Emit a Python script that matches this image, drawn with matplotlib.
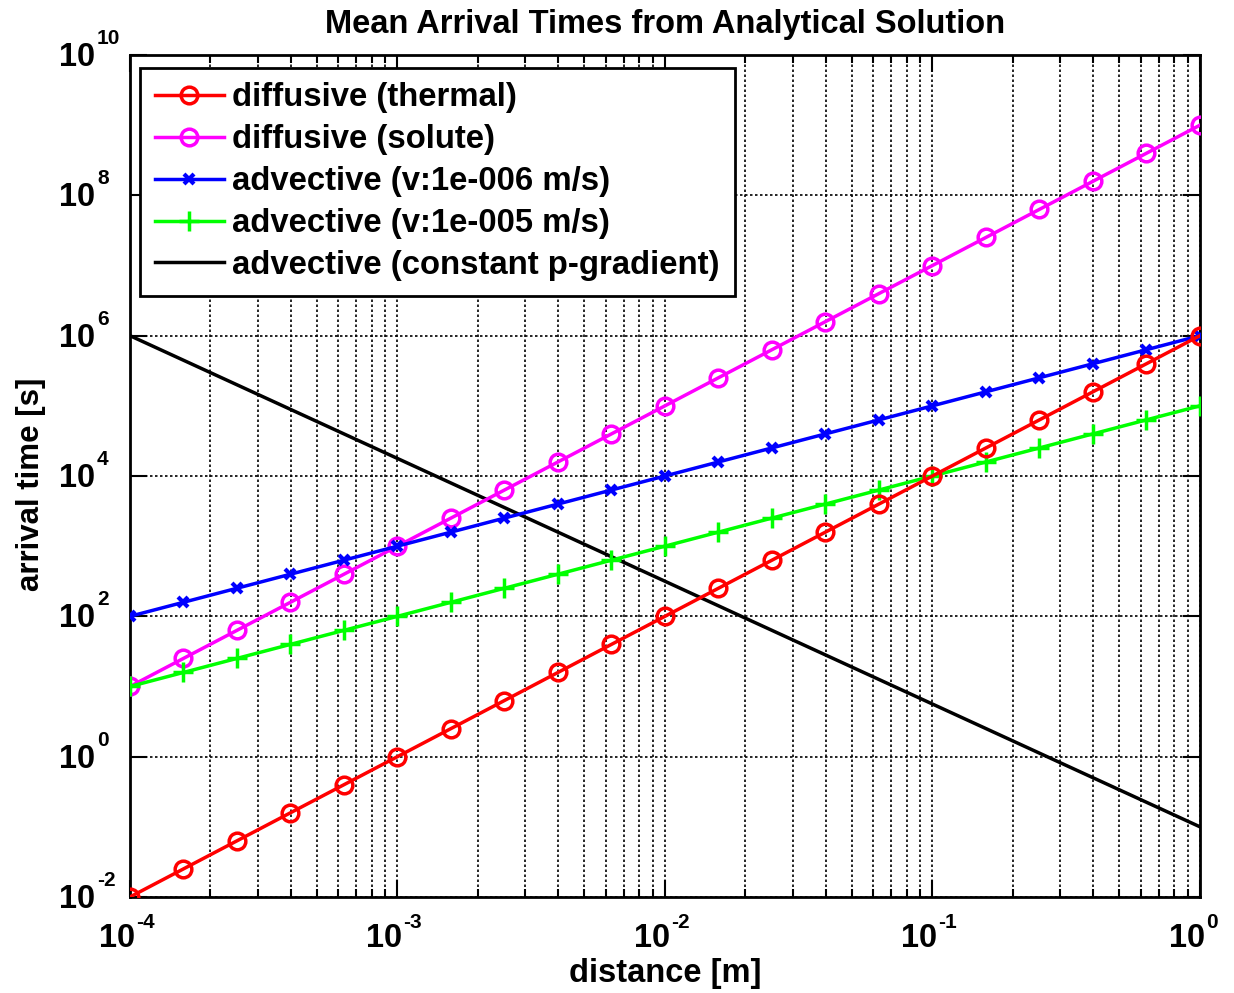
import numpy as np
import matplotlib
matplotlib.use("Agg")
from matplotlib import pyplot as plt
from matplotlib.ticker import LogLocator, NullFormatter, NullLocator

# distance [m]
distance = [1.000e-4, 1.585e-4, 2.512e-4, 3.981e-4, 6.310e-4,
            1.000e-3, 1.585e-3, 2.512e-3, 3.981e-3, 6.310e-3,
            1.000e-2, 1.585e-2, 2.512e-2, 3.981e-2, 6.310e-2,
            1.000e-1, 1.585e-1, 2.512e-1, 3.981e-1, 6.310e-1, 1.0]

# arrival times [s]
t_thermal = [1.000e-2, 2.512e-2, 6.310e-2, 1.585e-1, 3.981e-1,
             1.0, 2.512, 6.310, 15.85, 39.81,
             100.0, 251.2, 631.0, 1585.0, 3981.0,
             1.0e4, 2.512e4, 6.310e4, 1.585e5, 3.981e5, 1.0e6]
t_solute = [10.0, 25.12, 63.10, 158.5, 398.1,
            1.0e3, 2.512e3, 6.310e3, 1.585e4, 3.981e4,
            1.0e5, 2.512e5, 6.310e5, 1.585e6, 3.981e6,
            1.0e7, 2.512e7, 6.310e7, 1.585e8, 3.981e8, 1.0e9]
t_adv_1e6 = [100.0, 158.5, 251.2, 398.1, 631.0,
             1.0e3, 1585.0, 2512.0, 3981.0, 6310.0,
             1.0e4, 1.585e4, 2.512e4, 3.981e4, 6.310e4,
             1.0e5, 1.585e5, 2.512e5, 3.981e5, 6.310e5, 1.0e6]
t_adv_1e5 = [10.0, 15.85, 25.12, 39.81, 63.10,
             100.0, 158.5, 251.2, 398.1, 631.0,
             1.0e3, 1585.0, 2512.0, 3981.0, 6310.0,
             1.0e4, 1.585e4, 2.512e4, 3.981e4, 6.310e4, 1.0e5]
dist_pgrad = [1.0e-4, 1.0]
t_pgrad = [1.0e6, 0.1]

# tick decades
x_exps = [-4, -3, -2, -1, 0]
y_exps = [-2, 0, 2, 4, 6, 8, 10]

plt.rcParams['font.family'] = ['Liberation Sans', 'DejaVu Sans']
plt.rcParams['font.weight'] = 'bold'

fig = plt.figure(figsize=(12.34, 9.93), dpi=100)
ax = fig.add_axes([0.1053, 0.0967, 0.8671, 0.8479])

lw = 2.5
ax.loglog(distance, t_thermal, color='#ff0000', lw=lw, marker='o', ms=12,
          mfc='none', mew=2.5, label='diffusive (thermal)', zorder=5)
ax.loglog(distance, t_solute, color='#ff00ff', lw=lw, marker='o', ms=12,
          mfc='none', mew=2.5, label='diffusive (solute)', zorder=4)
ax.loglog(distance, t_adv_1e6, color='#0000ff', lw=lw, marker='x', ms=7,
          mew=3, label='advective (v:1e-006 m/s)', zorder=4)
ax.loglog(distance, t_adv_1e5, color='#00ff00', lw=lw, marker='+', ms=15,
          mew=2.5, label='advective (v:1e-005 m/s)', zorder=4)
ax.loglog(dist_pgrad, t_pgrad, color='black', lw=lw,
          label='advective (constant p-gradient)', zorder=3)

ax.set_xlim(1e-4, 1)
ax.set_ylim(1e-2, 1e10)

ax.set_xticks([10.0 ** e for e in x_exps])
ax.xaxis.set_minor_locator(LogLocator(base=10, subs=np.arange(2, 10), numticks=10))
ax.xaxis.set_minor_formatter(NullFormatter())
ax.xaxis.set_major_formatter(NullFormatter())
ax.set_yticks([10.0 ** e for e in y_exps])
ax.yaxis.set_minor_locator(NullLocator())
ax.yaxis.set_major_formatter(NullFormatter())

ax.tick_params(which='both', direction='in', top=True, right=True, width=1.5)
ax.tick_params(which='major', length=12)
ax.tick_params(which='minor', length=6)

# matlab style tick labels: big mantissa, small raised exponent
px = 0.72
for e in x_exps:
    v = 10.0 ** e
    ax.annotate('10', xy=(v, 0), xycoords=ax.get_xaxis_transform(),
                xytext=(5 * px, -50 * px), textcoords='offset points',
                ha='right', va='baseline', fontsize=23.5, fontweight='bold')
    ax.annotate('%d' % e, xy=(v, 0), xycoords=ax.get_xaxis_transform(),
                xytext=(6 * px, -31 * px), textcoords='offset points',
                ha='left', va='baseline', fontsize=15, fontweight='bold')
for e in y_exps:
    v = 10.0 ** e
    ax.annotate('10', xy=(0, v), xycoords=ax.get_yaxis_transform(),
                xytext=(-35 * px, -11 * px), textcoords='offset points',
                ha='right', va='baseline', fontsize=23.5, fontweight='bold')
    ax.annotate('%d' % e, xy=(0, v), xycoords=ax.get_yaxis_transform(),
                xytext=(-33 * px, 11 * px), textcoords='offset points',
                ha='left', va='baseline', fontsize=15, fontweight='bold')

ax.grid(True, which='major', color='black', ls=(0, (1.5, 1.5)), lw=1.2)
ax.grid(True, which='minor', axis='x', color='black', ls=(0, (1.5, 1.5)), lw=1.2)

for sp in ax.spines.values():
    sp.set_linewidth(2)

ax.set_title('Mean Arrival Times from Analytical Solution', fontsize=23.5,
             fontweight='bold', pad=16)
ax.set_xlabel('distance [m]', fontsize=23.5, fontweight='bold')
ax.xaxis.set_label_coords(0.5, -0.073)
ax.set_ylabel('arrival time [s]', fontsize=22.5, fontweight='bold')
ax.yaxis.set_label_coords(-0.078, 0.49)

leg = ax.legend(loc='upper left', bbox_to_anchor=(0.0095, 0.985), fontsize=23.7,
                frameon=True, fancybox=False, framealpha=1, edgecolor='black',
                borderpad=0.45, labelspacing=0.33, handlelength=2.1,
                handletextpad=0.25, borderaxespad=0)
leg.get_frame().set_linewidth(2)

fig.savefig('out.png', dpi=100)
